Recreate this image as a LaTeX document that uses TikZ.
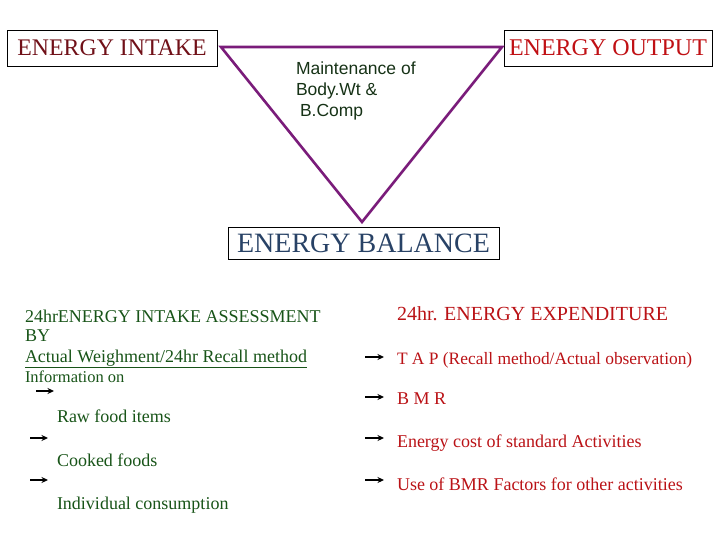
\documentclass[tikz,border=0pt]{standalone}
\usepackage{fontspec}
\setmainfont{Liberation Serif}
\newfontfamily\arialf{Liberation Sans}
\usetikzlibrary{arrows.meta}
\definecolor{intakec}{RGB}{112,16,24}
\definecolor{outputc}{RGB}{192,16,20}
\definecolor{balc}{RGB}{40,66,102}
\definecolor{tric}{RGB}{122,28,122}
\definecolor{tritxt}{RGB}{22,50,22}
\definecolor{leftc}{RGB}{24,84,24}
\definecolor{rightc}{RGB}{186,18,22}
\tikzset{
  titlebox/.style={draw=black, line width=0.9pt, inner sep=0pt, align=center},
  txt/.style={anchor=base west, inner sep=0pt, outer sep=0pt},
  ltxt/.style={txt, text=leftc, font=\fontsize{18}{21}\selectfont},
  rtxt/.style={txt, text=rightc, font=\fontsize{18}{21}\selectfont},
  arr/.style={line width=1.7pt, -{Stealth[length=6.5pt,width=6pt]}}
}
\begin{document}
\begin{tikzpicture}[x=1pt,y=-1pt]
\useasboundingbox (0,0) rectangle (720,540);
% title boxes
\node[titlebox, minimum width=210pt, minimum height=36pt, text=intakec, font=\fontsize{23.8}{26}\selectfont] (intake) at (112,48) {ENERGY INTAKE};
\node[titlebox, minimum width=208pt, minimum height=36pt, text=outputc, font=\fontsize{24}{26}\selectfont] (output) at (608,48) {ENERGY OUTPUT};
\node[titlebox, minimum width=271pt, minimum height=32pt, text=balc, font=\fontsize{28}{30}\selectfont] (balance) at (363.5,243.5) {ENERGY BALANCE};
% triangle
\coordinate (tl) at (221,47);
\coordinate (tr) at (502,47);
\coordinate (tb) at (362,222);
\draw[tric, line width=2.6pt, line join=miter] (tl) -- (tr) -- (tb) -- cycle;
\node[txt, text=tritxt, font=\arialf\fontsize{17.5}{21}\selectfont] (m1) at (296,75) {Maintenance of};
\node[txt, text=tritxt, font=\arialf\fontsize{17.5}{21}\selectfont] (m2) at (296,96) {Body.Wt \&};
\node[txt, text=tritxt, font=\arialf\fontsize{17.5}{21}\selectfont] (m3) at (300,117) {B.Comp};
% left block
\node[ltxt] (l1) at (25,322) {24hrENERGY INTAKE ASSESSMENT};
\node[ltxt] (l2) at (25,341) {BY};
\node[ltxt] (l3) at (25,362) {\underline{Actual Weighment/24hr Recall method}};
\node[ltxt, font=\fontsize{16.5}{20}\selectfont] (l4) at (25,382) {Information on};
\node[ltxt] (raw) at (57,422) {Raw food items};
\node[ltxt] (cook) at (57,466) {Cooked foods};
\node[ltxt] (indiv) at (57,509) {Individual consumption};
\coordinate (la1s) at (36,391); \coordinate (la1e) at (54,391);
\coordinate (la2s) at (30,438); \coordinate (la2e) at (48,438);
\coordinate (la3s) at (30,480); \coordinate (la3e) at (48,480);
\draw[arr] (la1s) -- (la1e);
\draw[arr] (la2s) -- (la2e);
\draw[arr] (la3s) -- (la3e);
% right block
\node[rtxt, font=\fontsize{20}{22}\selectfont] (r0) at (397,320) {24hr. ENERGY EXPENDITURE};
\node[rtxt, font=\fontsize{17.4}{21}\selectfont] (r1) at (397,364) {T A P (Recall method/Actual observation)};
\node[rtxt] (r2) at (397,404) {B M R};
\node[rtxt] (r3) at (397,447) {Energy cost of standard Activities};
\node[rtxt] (r4) at (397,490) {Use of BMR Factors for other activities};
\coordinate (ra1s) at (365,357); \coordinate (ra1e) at (384,357);
\coordinate (ra2s) at (365,397); \coordinate (ra2e) at (384,397);
\coordinate (ra3s) at (365,438); \coordinate (ra3e) at (384,438);
\coordinate (ra4s) at (365,480); \coordinate (ra4e) at (384,480);
\draw[arr] (ra1s) -- (ra1e);
\draw[arr] (ra2s) -- (ra2e);
\draw[arr] (ra3s) -- (ra3e);
\draw[arr] (ra4s) -- (ra4e);
\end{tikzpicture}
\end{document}
